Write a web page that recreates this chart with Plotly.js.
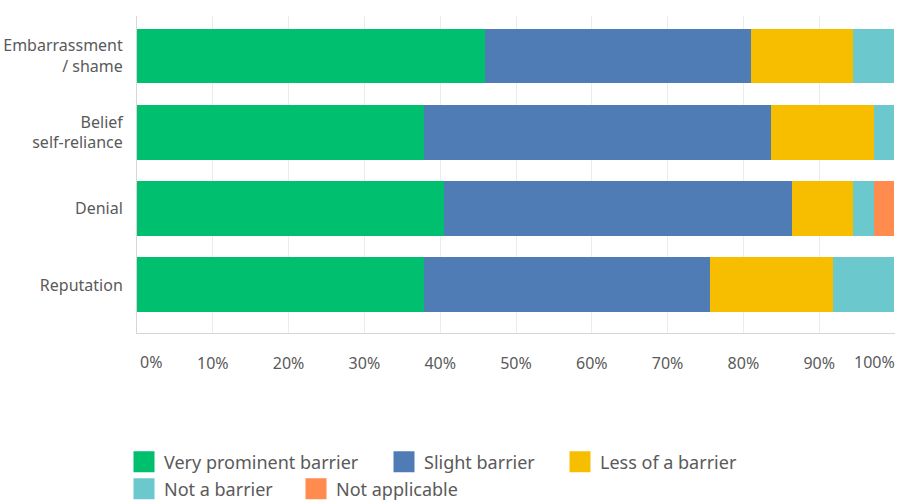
<!DOCTYPE html>
<html>
<head>
<meta charset="utf-8">
<script src="https://cdn.plot.ly/plotly-3.0.1.min.js"></script>
<style>html,body{margin:0;padding:0;background:#fff;}#chart{width:902px;height:501px;}</style>
</head>
<body>
<div id="chart"></div>
<script>
var categories = ["Embarrassment<br>/ shame", "Belief<br>self-reliance", "Denial", "Reputation"];
var seriesNames = ["Very prominent barrier", "Slight barrier", "Less of a barrier", "Not a barrier", "Not applicable"];
var veryProminent = [45.9, 37.8, 40.5, 37.8];
var slight = [35.1, 45.9, 45.9, 37.8];
var lessOf = [13.5, 13.5, 8.1, 16.2];
var notBarrier = [5.4, 2.7, 2.7, 8.1];
var notApplicable = [0, 0, 2.7, 0];
var xTickVals = [0, 10, 20, 30, 40, 50, 60, 70, 80, 90, 100];
var xTickText = ["0%", "10%", "20%", "30%", "40%", "50%", "60%", "70%", "80%", "90%", "100%"];

var colors = ["#00BF6F", "#507CB6", "#F7BE00", "#6BC8CD", "#FF8B4F"];
var seriesValues = [veryProminent, slight, lessOf, notBarrier, notApplicable];

var FONT = "Noto Sans, Open Sans, sans-serif";
var TXT = "#5a5a5a";
var last = xTickVals.length - 1;

// the edge labels (0% and 100%) are drawn as annotations aligned inward, like the reference
var tickTextShown = xTickText.map(function (t, i) { return (i === 0 || i === last) ? "" : t; });

var traces = [];
seriesValues.forEach(function (vals, i) {
  traces.push({
    type: "bar",
    orientation: "h",
    name: seriesNames[i],
    x: vals,
    y: categories,
    width: 0.72,
    marker: { color: colors[i], line: { width: 0 } },
    showlegend: false,
    hoverinfo: "x+name"
  });
});

var legendIds = ["legend", "legend2", "legend3", "legend4", "legend5"];
seriesNames.forEach(function (n, i) {
  traces.push({
    type: "scatter",
    mode: "markers",
    name: n,
    x: [null],
    y: [null],
    marker: { symbol: "square", size: 16, color: colors[i], line: { color: colors[i], width: 5 } },
    showlegend: true,
    legend: legendIds[i],
    hoverinfo: "skip"
  });
});

function py(px) { return 1 - (px - 16) / 317; }
function pxx(px) { return (px - 137) / 758; }
function leg(x, y) {
  return {
    x: pxx(x), y: py(y), xanchor: "left", yanchor: "middle",
    orientation: "h", bgcolor: "rgba(0,0,0,0)", borderwidth: 0,
    font: { family: FONT, size: 18, color: TXT },
    itemclick: false, itemdoubleclick: false
  };
}

var layout = {
  width: 902,
  height: 501,
  margin: { l: 137, r: 7, t: 16, b: 168, autoexpand: false },
  paper_bgcolor: "#ffffff",
  plot_bgcolor: "#ffffff",
  barmode: "stack",
  font: { family: FONT, size: 16, color: TXT },
  xaxis: {
    range: [0, 100],
    tickmode: "array",
    tickvals: xTickVals,
    ticktext: tickTextShown,
    showgrid: true,
    gridcolor: "#ececec",
    gridwidth: 1,
    zeroline: false,
    showline: true,
    linecolor: "#d6d6d6",
    linewidth: 1,
    ticks: "",
    ticklabelstandoff: 16,
    tickfont: { family: FONT, size: 16, color: TXT },
    automargin: false,
    fixedrange: true
  },
  yaxis: {
    type: "category",
    range: [3.63, -0.524],
    showgrid: false,
    zeroline: false,
    showline: true,
    linecolor: "#d6d6d6",
    linewidth: 1,
    ticks: "",
    ticklabelstandoff: 10,
    tickfont: { family: FONT, size: 16, color: TXT },
    automargin: false,
    fixedrange: true
  },
  annotations: [
    { x: xTickVals[0], xref: "x", y: py(362), yref: "paper", text: xTickText[0],
      xanchor: "left", yanchor: "middle", showarrow: false, xshift: 1,
      font: { family: FONT, size: 16, color: TXT } },
    { x: xTickVals[last], xref: "x", y: py(362), yref: "paper", text: xTickText[last],
      xanchor: "right", yanchor: "middle", showarrow: false, xshift: 2,
      font: { family: FONT, size: 16, color: TXT } }
  ],
  legend: leg(124, 462),
  legend2: leg(384, 462),
  legend3: leg(560, 462),
  legend4: leg(124, 489),
  legend5: leg(296, 489),
  showlegend: true
};

Plotly.newPlot("chart", traces, layout, { displayModeBar: false, staticPlot: true });
</script>
</body>
</html>
